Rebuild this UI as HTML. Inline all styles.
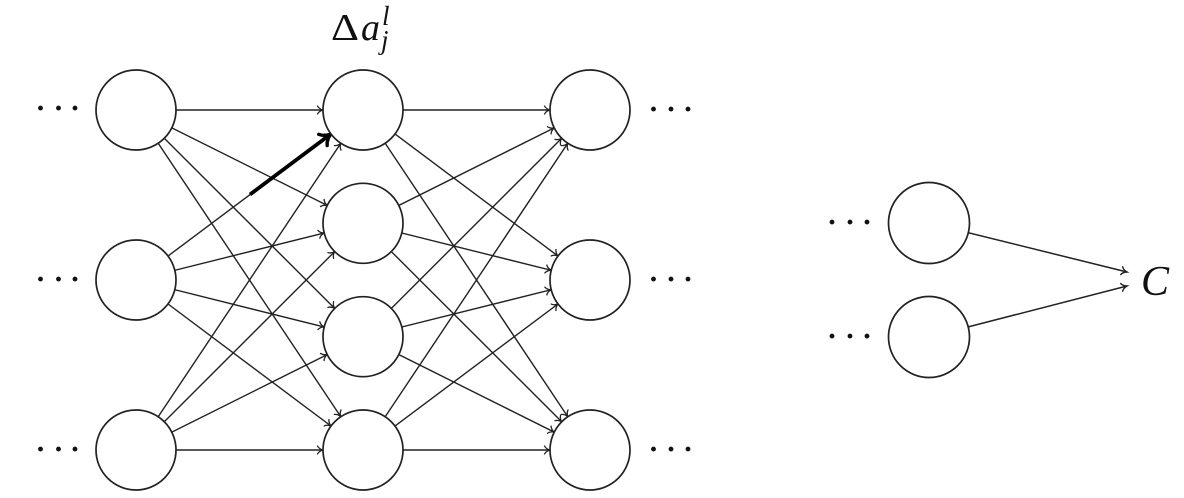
<!DOCTYPE html>
<html><head><meta charset="utf-8"><style>
html,body{margin:0;padding:0;background:#fff;}
svg{display:block;}
</style></head><body>
<svg width="1184" height="498" viewBox="0 0 1184 498" xmlns="http://www.w3.org/2000/svg">
<defs>
<marker id="ah" markerUnits="userSpaceOnUse" refX="40" refY="0" markerWidth="10" markerHeight="10" orient="auto" style="overflow:visible">
<path d="M -5.5,-4 C -4.2,-1.6 -1.8,-0.5 0,0 C -1.8,0.5 -4.2,1.6 -5.5,4" fill="none" stroke="#222" stroke-width="1.3" stroke-linecap="round"/>
</marker>
<marker id="ah0" markerUnits="userSpaceOnUse" refX="0" refY="0" markerWidth="10" markerHeight="10" orient="auto" style="overflow:visible">
<path d="M -5.5,-4 C -4.2,-1.6 -1.8,-0.5 0,0 C -1.8,0.5 -4.2,1.6 -5.5,4" fill="none" stroke="#222" stroke-width="1.4" stroke-linecap="round"/>
</marker>
<marker id="ahT" markerUnits="userSpaceOnUse" refX="40" refY="0" markerWidth="20" markerHeight="20" orient="auto" style="overflow:visible">
<path d="M -10,-7 C -7.5,-2.8 -3,-0.8 0,0 C -3,0.8 -7.5,2.8 -10,7" fill="none" stroke="#000" stroke-width="3.4" stroke-linecap="round"/>
</marker>
</defs>

<g stroke="#222" stroke-width="1.4" fill="none" marker-end="url(#ah)">
<line x1="136" y1="110" x2="363" y2="110"/>
<line x1="136" y1="110" x2="363" y2="223.3"/>
<line x1="136" y1="110" x2="363" y2="336.7"/>
<line x1="136" y1="110" x2="363" y2="450"/>
<line x1="136" y1="280" x2="363" y2="110"/>
<line x1="136" y1="280" x2="363" y2="223.3"/>
<line x1="136" y1="280" x2="363" y2="336.7"/>
<line x1="136" y1="280" x2="363" y2="450"/>
<line x1="136" y1="450" x2="363" y2="110"/>
<line x1="136" y1="450" x2="363" y2="223.3"/>
<line x1="136" y1="450" x2="363" y2="336.7"/>
<line x1="136" y1="450" x2="363" y2="450"/>
<line x1="363" y1="110" x2="590" y2="110"/>
<line x1="363" y1="110" x2="590" y2="280"/>
<line x1="363" y1="110" x2="590" y2="450"/>
<line x1="363" y1="223.3" x2="590" y2="110"/>
<line x1="363" y1="223.3" x2="590" y2="280"/>
<line x1="363" y1="223.3" x2="590" y2="450"/>
<line x1="363" y1="336.7" x2="590" y2="110"/>
<line x1="363" y1="336.7" x2="590" y2="280"/>
<line x1="363" y1="336.7" x2="590" y2="450"/>
<line x1="363" y1="450" x2="590" y2="110"/>
<line x1="363" y1="450" x2="590" y2="280"/>
<line x1="363" y1="450" x2="590" y2="450"/>
</g>

<g stroke="#222" stroke-width="1.5" fill="none" marker-end="url(#ah0)">
<line x1="929" y1="223" x2="1127" y2="272"/>
<line x1="929" y1="337" x2="1127" y2="286"/>
</g>

<line x1="250" y1="194.5" x2="363" y2="110" stroke="#000" stroke-width="3.8" marker-end="url(#ahT)"/>

<g fill="#fff" stroke="#222" stroke-width="1.7">
<circle cx="136" cy="110" r="40"/>
<circle cx="136" cy="280" r="40"/>
<circle cx="136" cy="450" r="40"/>
<circle cx="363" cy="110" r="40"/>
<circle cx="363" cy="223.3" r="40"/>
<circle cx="363" cy="336.7" r="40"/>
<circle cx="363" cy="450" r="40"/>
<circle cx="590" cy="110" r="40"/>
<circle cx="590" cy="280" r="40"/>
<circle cx="590" cy="450" r="40"/>
<circle cx="929" cy="223" r="40.5"/>
<circle cx="929" cy="337" r="40.5"/>
</g>

<g font-family="Liberation Serif, serif" font-size="30" fill="#111" font-weight="bold">
<text x="35.5 53.5 70" y="118">···</text>
<text x="35.5 53.5 70" y="289">···</text>
<text x="35.5 53.5 70" y="459">···</text>
<text x="648.5 666 683" y="119">···</text>
<text x="648.5 666 683" y="289">···</text>
<text x="648.5 666 683" y="459">···</text>
<text x="827 845 862" y="232">···</text>
<text x="827 845 862" y="346">···</text>
</g>

<g font-family="Liberation Serif, serif" fill="#111">
<text x="331" y="40" font-size="38" textLength="28" lengthAdjust="spacingAndGlyphs">Δ</text>
<text x="361" y="40" font-size="38" font-style="italic">a</text>
<text x="382" y="25" font-size="27" font-style="italic">l</text>
<text x="381" y="49" font-size="27" font-style="italic">j</text>
<text x="1141" y="295" font-size="42" font-style="italic">C</text>
</g>
</svg>
</body></html>
